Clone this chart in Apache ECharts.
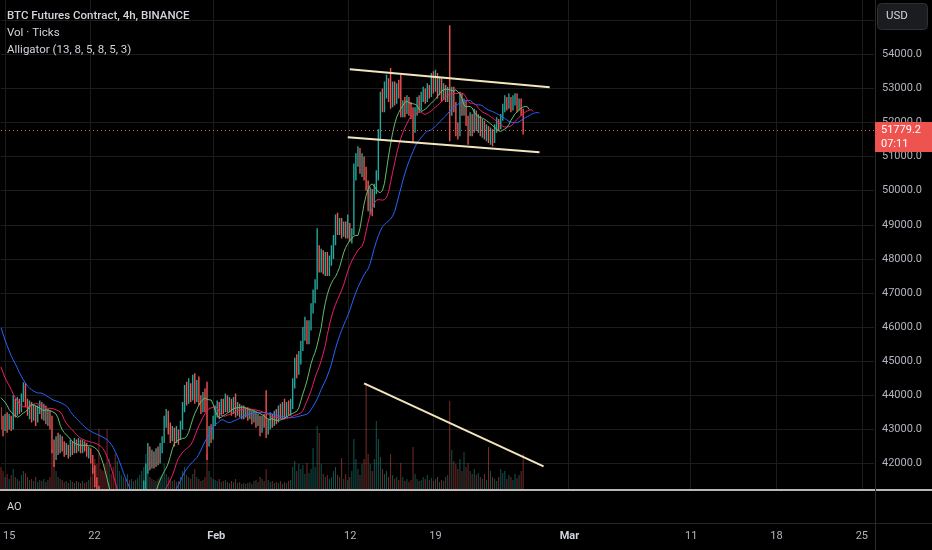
<!DOCTYPE html>
<html>
<head>
<meta charset="utf-8">
<script src="https://cdn.jsdelivr.net/npm/echarts@6/dist/echarts.min.js"></script>
<style>
html,body{margin:0;padding:0;background:#000;}
#c{width:932px;height:550px;}
</style>
</head>
<body>
<div id="c"></div>
<script>
// ---------- axis slots (4h candles) ----------
const slotStartUTC = Date.UTC(2024, 0, 14, 16);
const slotHours = 4;
const slotCount = 429;

// ---------- time-axis tick labels ----------
const tickDates  = ['2024-01-15 00:00','2024-01-22 00:00','2024-02-01 00:00','2024-02-12 00:00','2024-02-19 00:00','2024-03-01 00:00','2024-03-11 00:00','2024-03-18 00:00','2024-03-25 00:00'];
const tickLabels = ['15','22','Feb','12','19','Mar','11','18','25'];
const monthLabels = ['Feb','Mar'];

// ---------- price-axis tick labels ----------
const priceTicks = [42000,43000,44000,45000,46000,47000,48000,49000,50000,51000,52000,53000,54000,55000];

// ---------- earlier candles (left of the view, feed the Alligator) ----------
const warmOpen  = [46500,46900,46700,47000,46600,46800,46900,46700,46850,46600,46900,47000,46800,47300,47600,48000,48300,47900,47600,47400,47000,46800,46400,46100,45400,44500,44100,43800,43700,43500,43600,43350,43600,43450,43400,43650];
const warmClose = [46900,46700,47000,46600,46800,46900,46700,46850,46600,46900,47000,46800,47300,47600,48000,48300,47900,47600,47400,47000,46800,46400,46100,45400,44500,44100,43800,43700,43500,43600,43350,43600,43450,43400,43650,43500];
const warmLow   = [46400,46500,46600,46400,46500,46600,46500,46550,46450,46500,46700,46600,46750,47200,47500,47800,47700,47400,47200,46800,46600,46200,45800,45100,44200,43900,43600,43500,43400,43300,43200,43300,43300,43200,43350,43400];
const warmHigh  = [47100,47100,47200,47100,47000,47100,47050,47000,47000,47100,47200,47100,47500,47800,48200,48700,48500,48000,47700,47500,47100,46900,46600,46200,45600,44600,44300,43950,43850,43750,43700,43800,43700,43600,43800,43700];

// ---------- visible candles ----------
const open = [
43500,43200,43050,43350,43100,43300,43150,43700,43500,43800,
43600,43900,44100,43750,43500,43700,43400,43600,43350,43550,
43700,43450,43600,43300,43450,43200,42500,42200,42600,42400,
42700,42500,42350,42450,42300,42500,42400,42550,42450,42600,
42400,42550,42450,42300,42400,42150,41800,41500,41200,40800,
40500,40200,39800,39600,39900,39700,39400,39000,39400,39700,
39900,40100,39800,40000,39800,39900,40100,40000,40200,40500,
40900,41300,41800,42300,41950,42200,42000,42250,42100,42400,
42650,43200,43450,43000,42800,42950,42700,42900,42750,43100,
43600,44100,43850,44200,43950,44300,43900,44150,43850,43600,
43850,43700,42700,42950,42800,43200,43500,43700,43450,43750,
43600,43850,43650,43800,43550,43750,43500,43650,43450,43600,
43450,43550,43400,43500,43300,43450,43200,43350,43050,43300,
43200,42900,43150,43350,43200,43400,43300,43550,43400,43600,
43450,43650,43500,43700,44300,44900,44700,45100,45400,45800,
46100,45700,46000,46500,46900,47200,48200,47800,48100,47700,
48000,47650,47900,48200,48500,49100,48800,49050,48750,48950,
48700,48950,48650,48800,50500,50900,51100,50700,50900,50500,
50200,49700,49900,49600,50000,50400,51600,52700,52500,52900,
53200,52800,52600,53000,52700,53000,52900,52250,52500,52350,
52600,52400,52300,51800,52300,52600,52450,52750,52900,52700,
53000,52850,53250,53000,53300,52900,53150,52800,53000,52750,
52900,52400,52900,52500,51800,51700,52700,52400,52550,52100,
51700,52100,51800,52200,51900,52100,51800,51950,51650,51800,
51550,51700,51500,51850,52000,51900,52150,52400,52650,52500,
52700,52450,52650,52750,52500,52600,52350];
const close = [
43200,43050,43350,43100,43300,43150,43700,43500,43800,43600,
43900,44100,43750,43500,43700,43400,43600,43350,43550,43700,
43450,43600,43300,43450,43200,42500,42200,42600,42400,42700,
42500,42350,42450,42300,42500,42400,42550,42450,42600,42400,
42550,42450,42300,42400,42150,41800,41500,41200,40800,40500,
40200,39800,39600,39900,39700,39400,39000,39400,39700,39900,
40100,39800,40000,39800,39900,40100,40000,40200,40500,40900,
41300,41800,42300,41950,42200,42000,42250,42100,42400,42650,
43200,43450,43000,42800,42950,42700,42900,42750,43100,43600,
44100,43850,44200,43950,44300,43900,44150,43850,43600,43850,
43700,42700,42950,42800,43200,43500,43700,43450,43750,43600,
43850,43650,43800,43550,43750,43500,43650,43450,43600,43450,
43550,43400,43500,43300,43450,43200,43350,43050,43300,43200,
42900,43150,43350,43200,43400,43300,43550,43400,43600,43450,
43650,43500,43700,44300,44900,44700,45100,45400,45800,46100,
45700,46000,46500,46900,47200,48200,47800,48100,47700,48000,
47650,47900,48200,48500,49100,48800,49050,48750,48950,48700,
48950,48650,48800,50500,50900,51100,50700,50900,50500,50200,
49700,49900,49600,50000,50400,51600,52700,52500,52900,53200,
52800,52600,53000,52700,53000,52900,52250,52500,52350,52600,
52400,52300,51800,52300,52600,52450,52750,52900,52700,53000,
52850,53250,53000,53300,52900,53150,52800,53000,52750,52900,
52400,52900,52500,51800,51700,52700,52400,52550,52100,51700,
52100,51800,52200,51900,52100,51800,51950,51650,51800,51550,
51700,51500,51850,52000,51900,52150,52400,52650,52500,52700,
52450,52650,52750,52500,52600,52350,51779.2];
const low = [
43000,42800,42950,42900,43000,42950,43000,43350,43400,43450,
43500,43800,43650,43400,43300,43200,43250,43100,43200,43450,
43300,43250,43150,43100,43000,42300,41900,42100,42250,42300,
42350,42200,42250,42150,42200,42250,42300,42300,42350,42300,
42300,42350,42200,42150,42000,41700,41300,41000,40500,40300,
39900,39500,39300,39400,39500,39100,38600,38800,39200,39500,
39700,39600,39600,39600,39500,39800,39800,39900,40100,40400,
40800,41200,41700,41800,41850,41850,41900,41950,42000,42300,
42600,43050,42850,42600,42650,42500,42600,42550,42700,43000,
43500,43700,43750,43800,43850,43750,43800,43700,43450,43500,
43500,42100,42500,42600,42700,43100,43350,43300,43400,43450,
43500,43500,43500,43400,43450,43350,43400,43350,43300,43300,
43350,43250,43300,43150,43200,43050,43100,42800,42900,43050,
42750,42850,43000,43050,43100,43150,43200,43300,43300,43300,
43350,43400,43400,43600,44200,44500,44600,44900,45300,45600,
45500,45500,45900,46400,46700,47100,47600,47600,47550,47500,
47500,47500,47800,48000,48400,48700,48700,48600,48650,48600,
48600,48500,48450,48700,50300,50700,50500,50400,50300,50000,
49400,49300,49250,49500,49900,50300,51500,52300,52300,52700,
52600,52400,52450,52500,52550,52700,52150,52150,52150,52250,
52200,52100,51400,51700,52200,52300,52350,52600,52550,52600,
52700,52750,52850,52900,52700,52800,52600,52650,52600,52600,
51450,52200,52300,51600,51500,51600,52200,52200,51900,51350,
51600,51600,51700,51750,51700,51600,51550,51500,51450,51400,
51350,51300,51400,51700,51750,51800,52050,52300,52350,52400,
52300,52350,52500,52300,52350,52200,51650];
const high = [
43650,43400,43450,43500,43450,43400,44000,43900,43950,43900,
44050,44380,44350,43900,43850,43800,43750,43700,43700,43850,
43800,43750,43700,43600,43550,43400,42700,42800,42900,42850,
42800,42650,42600,42550,42700,42650,42750,42700,42750,42700,
42700,42650,42600,42500,42450,42250,41950,41600,41350,41000,
40700,40400,40000,40100,40100,39900,39600,39600,39900,40100,
40300,40200,40200,40150,40100,40300,40300,40500,40700,41100,
41500,42000,42600,42500,42400,42350,42450,42500,42600,42800,
43400,43600,43550,43200,43100,43050,43100,43000,43250,43800,
44300,44400,44500,44350,44600,44650,44450,44550,44000,44100,
44200,44400,43100,43150,43400,43700,43850,43800,43900,43900,
44050,44000,43950,43900,43950,44050,43800,43750,43700,43700,
43650,43650,43600,43550,43550,43500,43450,43400,43400,43450,
44150,43300,43500,43450,43550,43600,43700,43750,43800,43900,
43800,43850,43900,44500,45100,45200,45300,45600,46000,46300,
46200,46200,46700,47100,47400,48900,48400,48300,48250,48200,
48200,48100,48400,48700,49300,49350,49200,49200,49100,49100,
49300,49050,48900,50800,51100,51300,51250,51100,51000,50700,
50300,50100,50050,50200,50600,51800,52900,53000,53200,53400,
53300,53600,53200,53200,53150,53250,53400,52650,52750,52800,
52750,52600,52450,52450,52750,52800,52900,53050,53000,53150,
53100,53450,53500,53550,53450,53350,53300,53150,53100,53050,
54850,53050,53050,52600,52000,52900,52850,52700,52650,52200,
52300,52250,52400,52350,52250,52200,52100,52050,51950,51900,
51850,51800,51950,52150,52100,52250,52550,52800,52750,52850,
52750,52800,52860,52850,52700,52700,52400];
const volume = [
22,18,12,15,10,14,20,12,10,8,
14,18,16,12,9,10,8,12,7,9,
8,10,7,9,12,40,28,18,12,10,
9,7,8,6,9,7,6,8,7,6,
8,6,7,9,12,22,30,25,60,20,
18,25,60,30,15,22,35,28,18,14,
12,10,15,9,10,8,9,11,14,18,
22,35,20,12,10,9,8,10,12,14,
25,15,12,10,8,9,7,8,12,18,
22,14,12,10,15,20,12,10,8,9,
12,35,18,12,10,9,8,10,7,8,
9,7,6,8,7,10,6,7,5,6,
5,6,7,5,8,9,7,12,10,8,
20,9,7,8,6,7,6,8,5,7,
6,8,9,22,28,18,25,20,24,15,
26,16,20,41,22,63,56,25,15,12,
14,10,12,18,22,14,12,31,10,15,
9,12,18,50,30,20,14,25,30,106,
35,25,18,30,68,50,32,20,15,18,
12,35,14,10,12,9,26,12,8,10,
7,9,42,15,10,8,9,12,10,14,
9,11,8,10,12,7,9,8,12,14,
88,39,28,25,20,30,18,37,22,26,
18,15,20,14,16,12,10,15,9,42,
18,12,10,8,12,20,16,18,10,14,
12,9,15,11,14,18,35];

// ---------- drawings (time, price) ----------
const channelTop    = [['2024-02-12 04:00', 53560], ['2024-02-28 12:00', 53030]];
const channelBottom = [['2024-02-12 00:00', 51566], ['2024-02-27 16:00', 51126]];
const volumeTrend   = [['2024-02-13 08:00', 44350], ['2024-02-28 00:00', 41916]];

// ---------- header texts ----------
const titleText = 'BTC Futures Contract, 4h, BINANCE';
const volText = 'Vol · Ticks';
const alligatorText = 'Alligator (13, 8, 5, 8, 5, 3)';
const countdownText = '07:11';

// ---------- colours ----------
const UP = '#26a69a', DOWN = '#ef5350';
const VOL_UP = 'rgba(38,166,154,0.5)', VOL_DOWN = 'rgba(239,83,80,0.5)';
const GRID = '#1c1c1c', TXT = '#b2b5be', TXT2 = '#d1d4dc';
const FONT = 'Roboto, "Noto Sans", sans-serif';

// ---------- build ----------
function pad(n){return String(n).padStart(2,'0');}
function fmt(t){const d=new Date(t);return d.getUTCFullYear()+'-'+pad(d.getUTCMonth()+1)+'-'+pad(d.getUTCDate())+' '+pad(d.getUTCHours())+':00';}
const categories = [];
for (let i=0;i<slotCount;i++) categories.push(fmt(slotStartUTC + i*slotHours*3600000));
const tickMap = new Map(tickDates.map((d,k)=>[d,tickLabels[k]]));

const candleData = open.map((o,i)=>[o, close[i], low[i], high[i]]);
const volData = volume.map((v,i)=>({value:v, itemStyle:{color: close[i]>=open[i]?VOL_UP:VOL_DOWN}}));

// Alligator: SMMA of median price, shifted forward
const allHigh = warmHigh.concat(high), allLow = warmLow.concat(low);
const med = allHigh.map((h,i)=>(h+allLow[i])/2);
const W = warmHigh.length;
function smma(src, n){
  const out = new Array(src.length).fill(null); let s = 0;
  for (let i=0;i<src.length;i++){
    if (i < n-1) { s += src[i]; continue; }
    if (i === n-1) { s = (s + src[i]) / n; }
    else { s = (s*(n-1) + src[i]) / n; }
    out[i] = s;
  }
  return out;
}
function shifted(n, off){
  const sm = smma(med, n); const res = [];
  for (let v=0; v<open.length+off; v++){
    const k = v + W - off;
    res.push(k>=0 && k<sm.length && sm[k]!=null ? Math.round(sm[k]*10)/10 : null);
  }
  return res;
}
const jaw = shifted(13, 8), teeth = shifted(8, 5), lips = shifted(5, 3);
const lastClose = close[close.length-1];
const volMax = Math.max(...volume) * 4.61;

const catInterval = (idx, val) => tickMap.has(val);

const option = {
  backgroundColor: '#000000',
  animation: false,
  grid: [
    {left: 1, right: 58, top: 0, height: 489},
    {left: 1, right: 58, top: 491, height: 31}
  ],
  xAxis: [
    {type:'category', gridIndex:0, data:categories, boundaryGap:false,
     axisLine:{show:false}, axisTick:{show:false}, axisLabel:{show:false},
     splitLine:{show:true, interval:catInterval, lineStyle:{color:GRID, width:1}}},
    {type:'category', gridIndex:1, data:categories, boundaryGap:false,
     axisLine:{show:false}, axisTick:{show:false}, splitLine:{show:false},
     axisLabel:{show:true, interval:catInterval, margin:9, color:TXT, fontSize:11, fontFamily:FONT,
       formatter:(v)=>{const t=tickMap.get(v)||''; return monthLabels.includes(t)?'{m|'+t+'}':t;},
       rich:{m:{fontWeight:'bold', color:TXT2, fontSize:11, fontFamily:FONT}}}}
  ],
  yAxis: [
    {type:'value', gridIndex:0, position:'right', min:41252, max:55592, scale:true,
     axisLine:{show:false},
     axisTick:{show:false, customValues:priceTicks},
     axisLabel:{show:true, customValues:priceTicks, formatter:(v)=>v.toFixed(1), color:TXT, fontSize:11, fontFamily:FONT, margin:8, align:'left'},
     splitLine:{show:true, lineStyle:{color:GRID, width:1}}},
    {type:'value', gridIndex:0, min:0, max:volMax, show:false, splitLine:{show:false}},
    {type:'value', gridIndex:1, show:false, splitLine:{show:false}}
  ],
  series: [
    {type:'bar', name:'Vol', xAxisIndex:0, yAxisIndex:1, data:volData, barWidth:1, z:1, silent:true},
    {type:'candlestick', name:'BTC', xAxisIndex:0, yAxisIndex:0, data:candleData, barWidth:1.3, z:3, clip:true,
     large:true, largeThreshold:10,
     itemStyle:{color:UP, color0:DOWN, borderColor:UP, borderColor0:DOWN, borderWidth:1.4},
     markLine:{silent:true, symbol:['none','none'], label:{show:false},
       lineStyle:{color:DOWN, type:[1,3], width:1}, data:[{yAxis:lastClose}]}},
    {type:'line', name:'Jaw', xAxisIndex:0, yAxisIndex:0, data:jaw, showSymbol:false, symbol:'none', z:4,
     lineStyle:{color:'#2962ff', width:1}},
    {type:'line', name:'Teeth', xAxisIndex:0, yAxisIndex:0, data:teeth, showSymbol:false, symbol:'none', z:4,
     lineStyle:{color:'#e91e63', width:1}},
    {type:'line', name:'Lips', xAxisIndex:0, yAxisIndex:0, data:lips, showSymbol:false, symbol:'none', z:4,
     lineStyle:{color:'#66bb6a', width:1}},
    {type:'line', name:'ChTop', xAxisIndex:0, yAxisIndex:0, data:channelTop, symbol:'none', z:5,
     lineStyle:{color:'#f3e6bd', width:2}},
    {type:'line', name:'ChBottom', xAxisIndex:0, yAxisIndex:0, data:channelBottom, symbol:'none', z:5,
     lineStyle:{color:'#f3e6bd', width:2}},
    {type:'line', name:'VolTrend', xAxisIndex:0, yAxisIndex:0, data:volumeTrend, symbol:'none', z:5,
     lineStyle:{color:'#f3e6bd', width:2}}
  ]
};

const chart = echarts.init(document.getElementById('c'));
chart.setOption(option);

const py = chart.convertToPixel({yAxisIndex:0}, lastClose);
const graphics = [
  {type:'line', shape:{x1:0,y1:490,x2:932,y2:490}, style:{stroke:'#b8b8b8', lineWidth:2}, z:50},
  {type:'line', shape:{x1:0,y1:523.5,x2:932,y2:523.5}, style:{stroke:'#262626', lineWidth:1}, z:50},
  {type:'line', shape:{x1:875.5,y1:0,x2:875.5,y2:550}, style:{stroke:'#2a2a2a', lineWidth:1}, z:50},
  {type:'text', x:7, y:16, style:{text:titleText, fill:TXT2, font:'500 11.5px '+FONT, verticalAlign:'middle'}, z:60},
  {type:'text', x:7, y:33, style:{text:volText, fill:TXT2, font:'11.5px '+FONT, verticalAlign:'middle'}, z:60},
  {type:'text', x:7, y:50, style:{text:alligatorText, fill:TXT2, font:'11.5px '+FONT, verticalAlign:'middle'}, z:60},
  {type:'text', x:7, y:507, style:{text:'AO', fill:TXT2, font:'11px '+FONT, verticalAlign:'middle'}, z:60},
  {type:'rect', shape:{x:877.5, y:3.5, width:50, height:26, r:4}, style:{fill:'#1b1c20', stroke:'#2e3036', lineWidth:1}, z:60},
  {type:'text', x:886, y:16.5, style:{text:'USD', fill:TXT2, font:'11.5px '+FONT, verticalAlign:'middle'}, z:61},
  {type:'rect', shape:{x:875, y:py-8, width:57, height:30}, style:{fill:DOWN}, z:60},
  {type:'text', x:881, y:py, style:{text:lastClose.toFixed(1), fill:'#ffffff', font:'11px '+FONT, verticalAlign:'middle'}, z:61},
  {type:'text', x:881, y:py+14, style:{text:countdownText, fill:'#ffffff', font:'11px '+FONT, verticalAlign:'middle'}, z:61}
];
chart.setOption({graphic: graphics});
</script>
</body>
</html>
